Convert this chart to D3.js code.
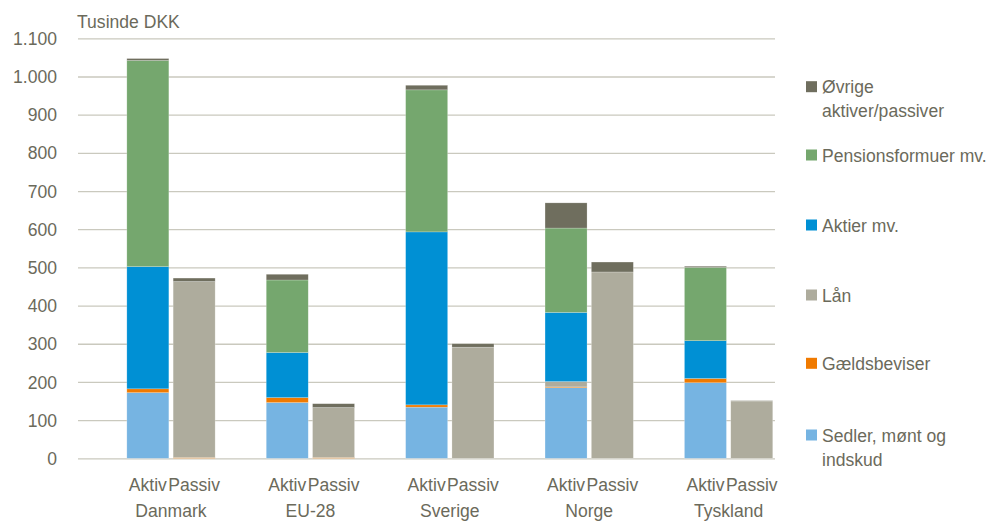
<!DOCTYPE html>
<html>
<head>
<meta charset="utf-8">
<script src="https://cdn.jsdelivr.net/npm/d3@7"></script>
<style>
  body { margin: 0; background: #fff; }
  svg text { font-family: "Liberation Sans", Arial, sans-serif; fill: #6b6a5b; font-size: 18.5px; }
</style>
</head>
<body>
<svg id="chart" width="987" height="521"></svg>
<script>
// categories
const countries = ["Danmark", "EU-28", "Sverige", "Norge", "Tyskland"];
const sides = ["Aktiv", "Passiv"];
const seriesNames = ["Sedler, mønt og indskud", "Gældsbeviser", "Lån", "Aktier mv.", "Pensionsformuer mv.", "Øvrige aktiver/passiver"];
const seriesColors = ["#76b4e2", "#f07a00", "#aeac9d", "#0090d4", "#75a76e", "#6f6e5e"];
// legend lines (top to bottom, reverse of stack)
const legendLines = [["Øvrige", "aktiver/passiver"], ["Pensionsformuer mv."], ["Aktier mv."], ["Lån"], ["Gældsbeviser"], ["Sedler, mønt og", "indskud"]];
const yTicks = [0, 100, 200, 300, 400, 500, 600, 700, 800, 900, 1000, 1100];

// values, order: Danmark Aktiv, Danmark Passiv, EU-28 Aktiv, ... (tusinde DKK)
const sedler  = [172, 0, 146, 0, 134, 0, 185, 0, 198, 0];
const gaeld   = [10, 2, 13, 2, 6, 0, 2, 0, 11, 0];
const laan    = [0, 461, 0, 131, 0, 291, 14, 488, 0, 150];
const aktier  = [320, 0, 118, 0, 453, 0, 181, 0, 99, 0];
const pension = [540, 0, 190, 0, 372, 0, 221, 0, 192, 0];
const oevrige = [5, 9, 15, 10, 12, 9, 66, 26, 3, 1];
const seriesValues = [sedler, gaeld, laan, aktier, pension, oevrige];

const rows = [];
countries.forEach((c, i) => {
  sides.forEach((s, j) => {
    const r = { country: c, side: s };
    seriesNames.forEach((n, k) => r[n] = seriesValues[k][i * 2 + j]);
    rows.push(r);
  });
});

const svg = d3.select('#chart');
const plotLeft = 78, plotRight = 775;

const y = d3.scaleLinear().domain([0, 1100]).range([458.3, 38.3]);
const x0 = d3.scaleBand().domain(countries).range([101.3, 798.3]);
const pairW = 88.3;
const x1 = d3.scaleBand().domain(sides).range([0, pairW]).paddingInner(0.093);

const fmt = d3.formatLocale({ decimal: ",", thousands: ".", grouping: [3], currency: ["", " kr."] }).format(",d");

// the reference font is a tall, slightly narrow sans; squeeze Liberation Sans a bit
function label(parent, x, yy, txt, anchor) {
  parent.append('g')
    .attr('transform', `translate(${x},${yy}) scale(0.95,1)`)
    .append('text')
    .attr('text-anchor', anchor || 'start')
    .text(txt);
}

// gridlines
const yAxis = svg.append('g')
  .attr('transform', `translate(${plotLeft},0)`)
  .call(d3.axisLeft(y).tickValues(yTicks).tickSize(-(plotRight - plotLeft)).tickFormat(''));
yAxis.select('.domain').remove();
yAxis.selectAll('line').attr('stroke', '#cac9be').attr('stroke-width', 1.3);

// y labels
const yl = svg.append('g');
yTicks.forEach(t => label(yl, 57, y(t) + 6.6, fmt(t), 'end'));

// bars
const stack = d3.stack().keys(seriesNames);
const layers = stack(rows);
const barX = d => x0(d.data.country) + (x0.bandwidth() - pairW) / 2 + x1(d.data.side);

svg.append('g').selectAll('g')
  .data(layers)
  .join('g')
  .attr('fill', (d, i) => seriesColors[i])
  .selectAll('rect')
  .data(d => d.filter(p => p[1] - p[0] > 0))
  .join('rect')
  .attr('x', barX)
  .attr('width', x1.bandwidth())
  .attr('y', d => y(d[1]))
  .attr('height', d => y(d[0]) - y(d[1]))
  .attr('stroke', 'rgba(255,255,255,0.35)')
  .attr('stroke-width', 0.6);

// x labels
const xl = svg.append('g');
countries.forEach(c => {
  sides.forEach(s => {
    label(xl, x0(c) + (x0.bandwidth() - pairW) / 2 + x1(s) + x1.bandwidth() / 2, 491, s, 'middle');
  });
  label(xl, x0(c) + x0.bandwidth() / 2, 517, c, 'middle');
});

// unit label
label(svg, 77, 28, 'Tusinde DKK');

// legend
const legY = [86.7, 155, 225, 295, 363.3, 435];
const leg = svg.append('g');
legendLines.forEach((lines, i) => {
  const g = leg.append('g').attr('transform', `translate(806,${legY[i]})`);
  g.append('rect').attr('x', 0).attr('y', -5.5).attr('width', 11).attr('height', 11)
    .attr('fill', seriesColors[seriesColors.length - 1 - i]);
  lines.forEach((t, k) => label(g, 16, 6.5 + k * 24, t));
});
</script>
</body>
</html>
